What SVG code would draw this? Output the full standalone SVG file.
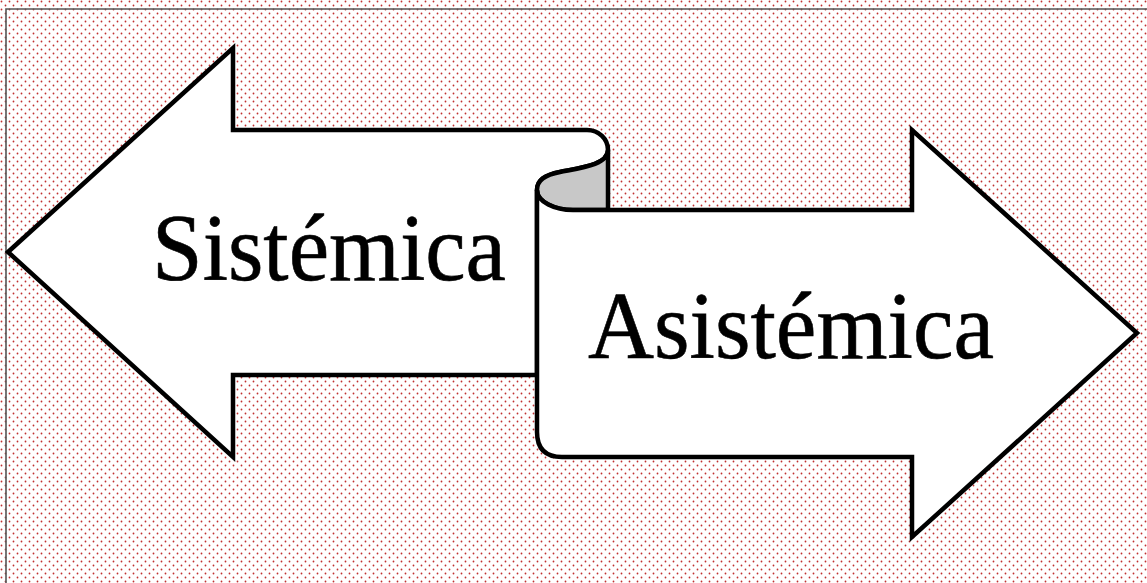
<svg xmlns="http://www.w3.org/2000/svg" width="1147" height="583" viewBox="0 0 1147 583">
<defs>
<pattern id="dots" width="8" height="8" patternUnits="userSpaceOnUse">
<circle cx="1.5" cy="1.5" r="0.9" fill="#c03030"/>
<circle cx="5.5" cy="5.5" r="0.9" fill="#c03030"/>
</pattern>
</defs>
<style>
.shape{fill:#ffffff;stroke:#000000;stroke-width:4.5;stroke-linejoin:miter}
.back{fill:#c8c8c8;stroke:#000000;stroke-width:4.5;stroke-linejoin:round}
.label{font-family:"Liberation Serif","DejaVu Serif",serif;font-size:95px;fill:#000000;stroke:#000000;stroke-width:0.6}
</style>
<rect x="0" y="0" width="1147" height="583" fill="#ffffff"/>
<rect x="0" y="0" width="1147" height="583" fill="url(#dots)"/>
<path d="M6 583 L6 9 L1147 9" fill="none" stroke="#555555" stroke-width="1.6"/>
<g id="sistemica">
<path class="shape" d="M8 252 L233 48 L233 130 L587 130 C599 130 608 139 608 150 C608 165 580 168 560 172 C545 175 537 180 537 190 L537 375 L233 375 L233 457 Z"/>
<text class="label" x="152" y="280" textLength="354" lengthAdjust="spacingAndGlyphs">Sistémica</text>
</g>
<g id="curl">
<path class="back" d="M608 150 C608 165 580 168 560 172 C545 175 537 180 537 190 C537 202 555 210 573 210 L608 210 Z"/>
</g>
<g id="asistemica">
<path class="shape" d="M537 190 C537 202 555 210 573 210 L912 210 L912 130 L1137 333 L912 537 L912 457 L562 457 Q537 457 537 432 Z"/>
<text class="label" x="588" y="358" textLength="406" lengthAdjust="spacingAndGlyphs">Asistémica</text>
</g>
<g id="connectors"/>
</svg>
